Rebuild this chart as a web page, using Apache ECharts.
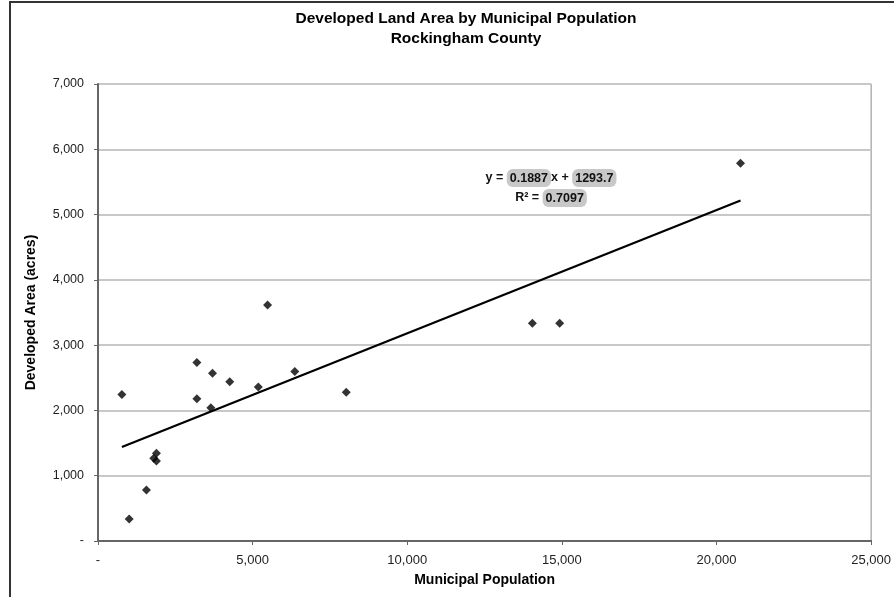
<!DOCTYPE html>
<html><head><meta charset="utf-8">
<script src="https://cdn.jsdelivr.net/npm/echarts@6/dist/echarts.min.js"></script>
<style>html,body{margin:0;padding:0;background:#fff}#c{width:894px;height:597px}</style>
</head><body><div id="c"></div>
<script>
var titleLines = ['Developed Land Area by Municipal Population', 'Rockingham County'];
var xName = 'Municipal Population';
var yName = 'Developed Area (acres)';
var population = [773, 1009, 1567, 1803, 1889, 1889, 3197, 3197, 3703, 3649, 4261, 5184, 5484, 6365, 8027, 14047, 14929, 20777];
var developedArea = [2243, 336, 783, 1266, 1343, 1225, 2735, 2177, 2568, 2040, 2441, 2360, 3616, 2598, 2278, 3336, 3336, 5786];
var trendSlope = 0.1887;
var trendIntercept = 1293.7;
var rSquared = '0.7097';

var pts = population.map(function(x, i){ return [x, developedArea[i]]; });
var xmin = Math.min.apply(null, population), xmax = Math.max.apply(null, population);
var trend = [[xmin, trendSlope*xmin + trendIntercept], [xmax, trendSlope*xmax + trendIntercept]];

function fmt(v){ return v === 0 ? '-' : v.toLocaleString('en-US'); }
var F = 'Liberation Sans, Arial, sans-serif';
var chart = echarts.init(document.getElementById('c'));
chart.setOption({
  animation: false,
  backgroundColor: '#fff',
  title: {
    text: titleLines.join('\n'), left: 461, textAlign: 'center', top: 4,
    textStyle: {fontFamily: F, fontSize: 15.5, fontWeight: 'bold', color: '#000', lineHeight: 20}
  },
  grid: {left: 98, right: 20, top: 84, bottom: 56, show: true, borderColor: '#8a8a8a', borderWidth: 1},
  xAxis: {
    type: 'value', min: 0, max: 25000, interval: 5000,
    name: xName, nameLocation: 'middle', nameGap: 32,
    nameTextStyle: {fontFamily: F, fontSize: 14, fontWeight: 'bold', color: '#000'},
    axisLine: {show: true, onZero: false, lineStyle: {color: '#666', width: 2}},
    axisTick: {show: true, length: 4, lineStyle: {color: '#666'}},
    axisLabel: {formatter: fmt, fontFamily: F, fontSize: 13, color: '#222', margin: 13},
    splitLine: {show: false}
  },
  yAxis: {
    type: 'value', min: 0, max: 7000, interval: 1000,
    name: yName, nameLocation: 'middle', nameGap: 60, nameRotate: 90,
    nameTextStyle: {fontFamily: F, fontSize: 14, fontWeight: 'bold', color: '#000'},
    axisLine: {show: true, lineStyle: {color: '#666', width: 2}},
    axisTick: {show: true, length: 4, lineStyle: {color: '#666'}},
    axisLabel: {formatter: fmt, fontFamily: F, fontSize: 12.5, color: '#222', margin: 14},
    splitLine: {show: true, lineStyle: {color: '#c8c8c8', width: 2}}
  },
  series: [
    {type: 'scatter', data: pts, symbol: 'diamond', symbolSize: 9, itemStyle: {color: '#000'}, z: 3},
    {type: 'line', data: trend, symbol: 'none', lineStyle: {color: '#000', width: 2.2}, z: 2}
  ],
  graphic: [
    {type: 'rect', shape: {x: 10, y: 2, width: 900, height: 610}, style: {fill: 'none', stroke: '#333', lineWidth: 2}, silent: true},
    {type: 'text', x: 551, y: 168, style: {
      text: 'y = {h|' + trendSlope.toFixed(4) + '}x + {h|' + trendIntercept.toFixed(1) + '}\nR\u00b2 = {h|' + rSquared + '}',
      font: 'bold 12.5px ' + F, fill: '#111', align: 'center', verticalAlign: 'top', lineHeight: 20,
      rich: {
        h: {backgroundColor: '#c8c8c8', borderRadius: 6, padding: [3, 3, 2, 3], fontWeight: 'bold', fontSize: 12.5, fontFamily: F}
      }
    }}
  ]
});
</script></body></html>
